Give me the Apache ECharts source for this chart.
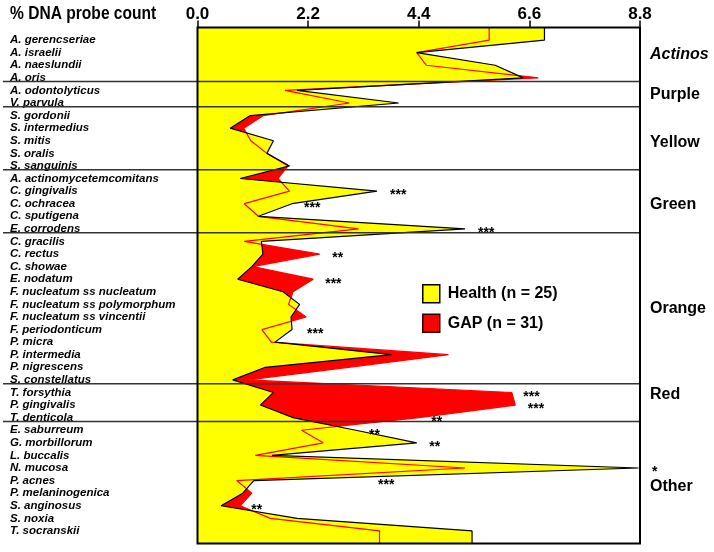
<!DOCTYPE html>
<html><head><meta charset="utf-8">
<script src="https://cdn.jsdelivr.net/npm/echarts@6/dist/echarts.min.js"></script>
<style>html,body{margin:0;padding:0;background:#fff}#c{width:714px;height:552px}</style>
</head><body><div id="c"></div>
<script>
// ---------------- data ----------------
const species = [
  'A. gerencseriae','A. israelii','A. naeslundii','A. oris',
  'A. odontolyticus','V. parvula',
  'S. gordonii','S. intermedius','S. mitis','S. oralis','S. sanguinis',
  'A. actinomycetemcomitans','C. gingivalis','C. ochracea','C. sputigena','E. corrodens',
  'C. gracilis','C. rectus','C. showae','E. nodatum','F. nucleatum ss nucleatum',
  'F. nucleatum ss polymorphum','F. nucleatum ss vincentii','F. periodonticum','P. micra',
  'P. intermedia','P. nigrescens','S. constellatus',
  'T. forsythia','P. gingivalis','T. denticola',
  'E. saburreum','G. morbillorum','L. buccalis','N. mucosa','P. acnes',
  'P. melaninogenica','S. anginosus','S. noxia','T. socranskii'
];
const health = [
  6.90, 4.36, 5.92, 6.48,
  1.98, 4.00,
  1.05, 0.65, 1.51, 1.38, 1.83,
  0.85, 3.57, 1.88, 1.21, 5.32,
  1.27, 1.30, 1.08, 0.80, 1.70,
  2.03, 1.86, 1.88, 1.54,
  3.86, 1.35, 0.70,
  1.51, 1.25, 1.90,
  3.15, 4.36, 1.48, 8.77, 1.12,
  0.90, 0.47, 1.98, 5.46
];
const gap = [
  5.80, 4.36, 4.55, 6.78,
  1.74, 3.02,
  1.31, 0.92, 1.06, 1.38, 1.80,
  1.60, 1.83, 0.93, 1.21, 3.20,
  0.93, 2.43, 1.10, 2.30, 1.90,
  1.81, 2.16, 1.28, 1.47,
  4.99, 3.00, 1.00,
  6.25, 6.32, 4.40,
  2.07, 2.50, 1.15, 5.32, 0.78,
  1.08, 0.85, 1.45, 3.62
];
const xTicks = [0, 2.2, 4.4, 6.6, 8.8];
const groupNames = ['Actinos','Purple','Yellow','Green','Orange','Red','Other'];
const groupEnds  = [3, 5, 10, 15, 27, 30, 39];      // last species index of each group
// significance marks: [species index, x value (% DNA probe count), text]
const stars = [
  [12, 3.83, '***'], [13, 2.12, '***'], [15, 5.58, '***'],
  [17, 2.68, '**'],  [19, 2.54, '***'], [23, 2.18, '***'],
  [28, 6.48, '***'], [29, 6.57, '***'], [30, 4.65, '**'],
  [31, 3.41, '**'],  [32, 4.61, '**'],  [34, 9.04, '*'],
  [35, 3.59, '***'], [37, 1.07, '**']
];
const seriesNames = ['Health (n = 25)', 'GAP (n = 31)'];

// ---------------- chart ----------------
const FONT = "'Liberation Sans', Arial, Helvetica, sans-serif";
const cats = [''].concat(species, ['']);
const pad = a => [a[0]].concat(a, [a[a.length - 1]]);

const chart = echarts.init(document.getElementById('c'), null, {renderer: 'canvas'});
const option = {
  animation: false,
  backgroundColor: '#fff',
  grid: {left: 197.5, right: 74, top: 27.5, bottom: 8.5, containLabel: false},
  xAxis: {
    type: 'value', position: 'top', min: xTicks[0], max: xTicks[xTicks.length - 1],
    interval: xTicks[1] - xTicks[0],
    axisLine: {show: false},
    axisTick: {show: true, inside: false, length: 7, lineStyle: {color: '#000', width: 1.5}},
    splitLine: {show: false},
    axisLabel: {margin: 5, color: '#000', fontFamily: FONT, fontSize: 17, fontWeight: 'bold',
      formatter: v => Number(v).toFixed(1)}
  },
  yAxis: {
    type: 'category', data: cats, inverse: true, boundaryGap: false,
    axisLine: {show: false}, axisTick: {show: false}, splitLine: {show: false},
    axisLabel: {interval: 0, align: 'left', margin: 187.5, color: '#000', fontFamily: FONT,
      fontSize: 11.5, fontWeight: 'bold', fontStyle: 'italic', padding: [0, 0, 4, 0]}
  },
  legend: {
    orient: 'vertical', left: 417, top: 279, itemWidth: 17, itemHeight: 18, itemGap: 10,
    icon: 'rect', selectedMode: false,
    data: [
      {name: seriesNames[0], itemStyle: {color: '#ffff00', borderColor: '#000', borderWidth: 1.5}},
      {name: seriesNames[1], itemStyle: {color: '#ff0000', borderColor: '#300', borderWidth: 1.5}}
    ],
    textStyle: {fontFamily: FONT, fontSize: 16, fontWeight: 'bold', color: '#000', padding: [0, 0, 0, 3]}
  },
  series: [
    {name: seriesNames[1], type: 'line', data: pad(gap), symbol: 'none', z: 2,
      lineStyle: {width: 0, opacity: 0}, itemStyle: {color: '#ff0000'},
      areaStyle: {color: '#ff0000', opacity: 1}},
    {name: seriesNames[0], type: 'line', data: pad(health), symbol: 'none', z: 3,
      lineStyle: {width: 0, opacity: 0}, itemStyle: {color: '#ffff00'},
      areaStyle: {color: '#ffff00', opacity: 1}},
    {name: seriesNames[1], type: 'line', data: pad(gap), symbol: 'none', z: 4,
      lineStyle: {width: 1.2, color: '#ff0000'}, itemStyle: {color: '#ff0000'}},
    {name: seriesNames[0], type: 'line', data: pad(health), symbol: 'none', z: 5,
      lineStyle: {width: 1.2, color: '#000'}, itemStyle: {color: '#000'}}
  ]
};
chart.setOption(option);

// ---------------- annotations positioned through the axes ----------------
const px = v => chart.convertToPixel({xAxisIndex: 0}, v);
const catY = i => chart.convertToPixel({yAxisIndex: 0}, i);
const rowY = r => { // r = species index, may be fractional
  const i = Math.floor(r), f = r - i;
  const a = catY(i + 1), b = catY(i + 2);
  return a + (b - a) * f;
};
const x0 = px(xTicks[0]), x1 = px(xTicks[xTicks.length - 1]);
const yTop = catY(0), yBot = catY(cats.length - 1);
const labelRowOffsets = [1.18, 4.31, 8.13, 13.09, 21.32, 28.15, 35.5];

const g = [];
// plot frame
g.push({type: 'rect', z: 50, shape: {x: x0, y: yTop, width: x1 - x0, height: yBot - yTop},
  style: {fill: null, stroke: '#000', lineWidth: 2}});
// group separators and names
groupEnds.forEach((e, k) => {
  if (k < groupEnds.length - 1) {
    const y = rowY(e + 0.3);
    g.push({type: 'line', z: 40, shape: {x1: 3, y1: y, x2: x1, y2: y},
      style: {stroke: '#333', lineWidth: 1.5}});
  }
  g.push({type: 'text', z: 60, x: x1 + 10, y: rowY(labelRowOffsets[k]),
    style: {text: groupNames[k], fill: '#000', font: (k === 0 ? 'italic ' : '') + 'bold 16px ' + FONT,
      textAlign: 'left', textVerticalAlign: 'middle'}});
});
// significance marks
stars.forEach(s => {
  g.push({type: 'text', z: 60, x: px(s[1]), y: rowY(s[0]) + 4.5,
    style: {text: s[2], fill: '#000', font: 'bold 14px ' + FONT, textAlign: 'left', textVerticalAlign: 'middle'}});
});
// axis title (condensed look via horizontal scaling)
g.push({type: 'text', z: 60, x: 10, y: 14, scaleX: 0.82, scaleY: 1,
  style: {text: '% DNA probe count', fill: '#000', font: 'bold 19px ' + FONT,
    textAlign: 'left', textVerticalAlign: 'middle'}});

chart.setOption({graphic: g});
</script>
</body></html>
